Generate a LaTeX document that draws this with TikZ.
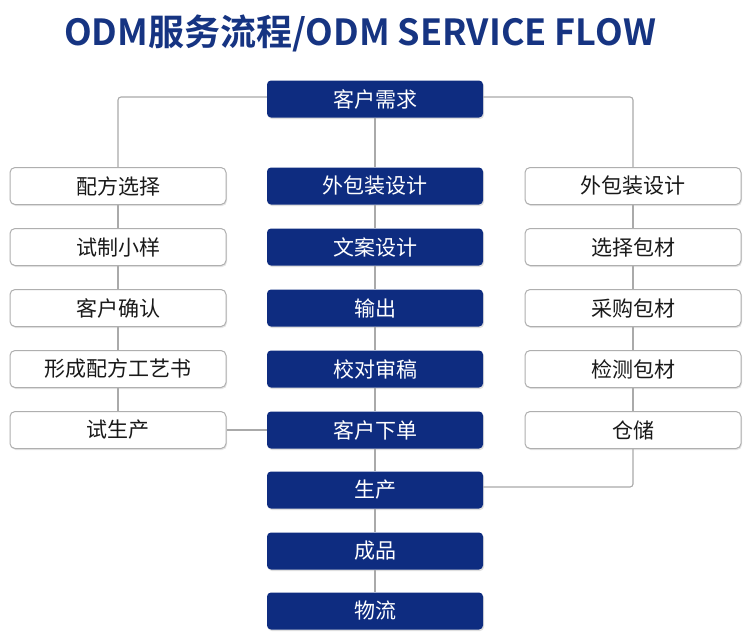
\documentclass[tikz,border=0pt]{standalone}
\usepackage{fontspec}
\usetikzlibrary{shadows}
\newfontfamily\cjk{Noto Sans CJK SC}
\newfontfamily\cjkb{Noto Sans CJK SC Bold}
\definecolor{navy}{RGB}{14,44,128}
\definecolor{titleblue}{RGB}{22,52,130}
\definecolor{linegray}{RGB}{170,170,170}
\definecolor{boxgray}{RGB}{175,175,175}
\begin{document}
\begin{tikzpicture}[x=1pt,y=-1pt,
  darkbox/.style={draw=none,fill=navy,rounded corners=4pt,minimum width=216pt,minimum height=37pt,inner sep=0pt,text=white,font=\cjk\fontsize{21}{21}\selectfont,drop shadow={opacity=0.25,shadow xshift=1pt,shadow yshift=-1.5pt}},
  lightbox/.style={draw=boxgray,line width=1pt,fill=white,rounded corners=5pt,minimum width=216pt,minimum height=37pt,inner sep=0pt,text=black!90,font=\cjk\fontsize{21}{21}\selectfont,drop shadow={opacity=0.2,shadow xshift=1pt,shadow yshift=-1.5pt}},
  conn/.style={draw=linegray,line width=1.1pt,rounded corners=3pt}]
\useasboundingbox (0,0) rectangle (750,641);
\fill[white] (0,0) rectangle (750,641);
\node[text=titleblue,font=\cjkb\fontsize{36}{36}\selectfont,inner sep=0pt] (title) at (360,33) {ODM服务流程/ODM SERVICE FLOW};
% connectors (drawn first, beneath boxes)
\path (375,99) coordinate (c1c) (118,186) coordinate (l1c) (633,186) coordinate (r1c);
% center column
\foreach \n/\t/\y in {c1/客户需求/99,c2/外包装设计/186,c3/文案设计/247,c4/输出/308,c5/校对审稿/369,c6/客户下单/430,c7/生产/490,c8/成品/551,c9/物流/611}
  \node[darkbox] (\n) at (375,\y) {\t};
\foreach \n/\t/\y in {l1/配方选择/186,l2/试制小样/247,l3/客户确认/308,l4/形成配方工艺书/369,l5/试生产/430}
  \node[lightbox] (\n) at (118,\y) {\t};
\foreach \n/\t/\y in {r1/外包装设计/186,r2/选择包材/247,r3/采购包材/308,r4/检测包材/369,r5/仓储/430}
  \node[lightbox] (\n) at (633,\y) {\t};
\draw[conn] (c1.west |- 0,97) -| (l1.north);
\draw[conn] (c1.east |- 0,97) -| (r1.north);
\foreach \a/\b in {c1/c2,c2/c3,c3/c4,c4/c5,c5/c6,c6/c7,c7/c8,c8/c9,l1/l2,l2/l3,l3/l4,l4/l5,r1/r2,r2/r3,r3/r4,r4/r5}
  \draw[conn] (\a.south) -- (\b.north);
\draw[conn] (l5.east) -- (c6.west);
\draw[conn] (r5.south) |- (c7.east |- 0,487);
\end{tikzpicture}
\end{document}
